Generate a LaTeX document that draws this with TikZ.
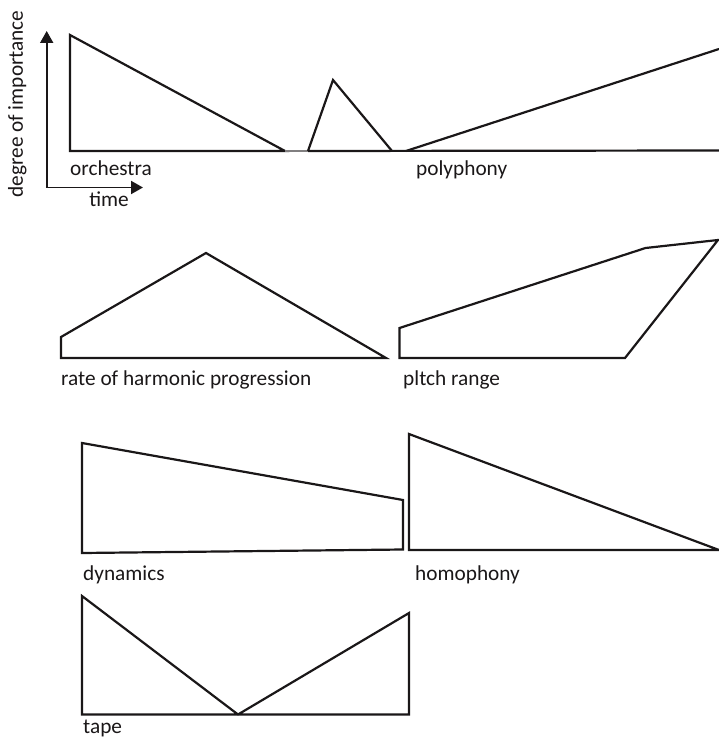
\documentclass[tikz,border=0pt]{standalone}
\usepackage{fontspec}
\setmainfont{Carlito}
\usetikzlibrary{arrows.meta}
\definecolor{ink}{HTML}{1A1718}
\tikzset{
  shapeline/.style={draw=ink, line width=2.2pt, line join=miter},
  lbl/.style={anchor=base west, inner sep=0pt, text=ink, font=\fontsize{21.3}{25}\selectfont},
  axis/.style={draw=ink, line width=1.9pt, -{Triangle[length=12pt,width=13pt]}},
}
\begin{document}
\begin{tikzpicture}[x=1pt,y=-1pt]
\useasboundingbox (0,0) rectangle (719,741);
% axes
\coordinate (origin) at (46.7,187.5);
\coordinate (ytip) at (46.7,31);
\coordinate (xtip) at (143,187.5);
\draw[axis] (origin) -- (ytip);
\draw[axis] ([xshift=-0.95pt]origin) -- (xtip);
\node[inner sep=0pt, text=ink, font=\fontsize{21.3}{25}\selectfont, rotate=90, anchor=base] (yl) at (23,104) {degree of importance};
\node[lbl, anchor=base] (tl) at (109,206) {time};
% orchestra
\draw[shapeline] (70,35) -- (285,151) -- (70,151) -- cycle;
\draw[draw=ink!55, line width=1.4pt] (285,151) -- (308,151);
% small triangle
\draw[shapeline] (308,151) -- (333,80) -- (392,151);
% polyphony
\draw[shapeline] (308,151) -- (719,150.5);
\draw[shapeline] (406,151) -- (719,49);
\node[lbl] (orch) at (70,175) {orchestra};
\node[lbl] (poly) at (416,175) {polyphony};
% rate of harmonic progression
\draw[shapeline] (61,337) -- (206,253) -- (386,358) -- (61,358) -- cycle;
\node[lbl] (rate) at (61,385) {rate of harmonic progression};
% pitch range
\draw[shapeline] (399.5,328) -- (645.5,248) -- (718,240) -- (625,358) -- (399.5,358) -- cycle;
\node[lbl] (pitch) at (403,385) {pltch range};
% dynamics
\draw[shapeline] (82,443) -- (403,500) -- (403,549.5) -- (82,553) -- cycle;
\node[lbl] (dyn) at (83,580) {dynamics};
% homophony
\draw[shapeline] (409,434) -- (719,550) -- (409,550) -- cycle;
\node[lbl] (homo) at (415,580) {homophony};
% tape
\draw[shapeline] (82,596) -- (238,714.5) -- (409,613) -- (409,714.5) -- (82,714.5) -- cycle;
\node[lbl] (tape) at (83,733) {tape};
\end{tikzpicture}
\end{document}
